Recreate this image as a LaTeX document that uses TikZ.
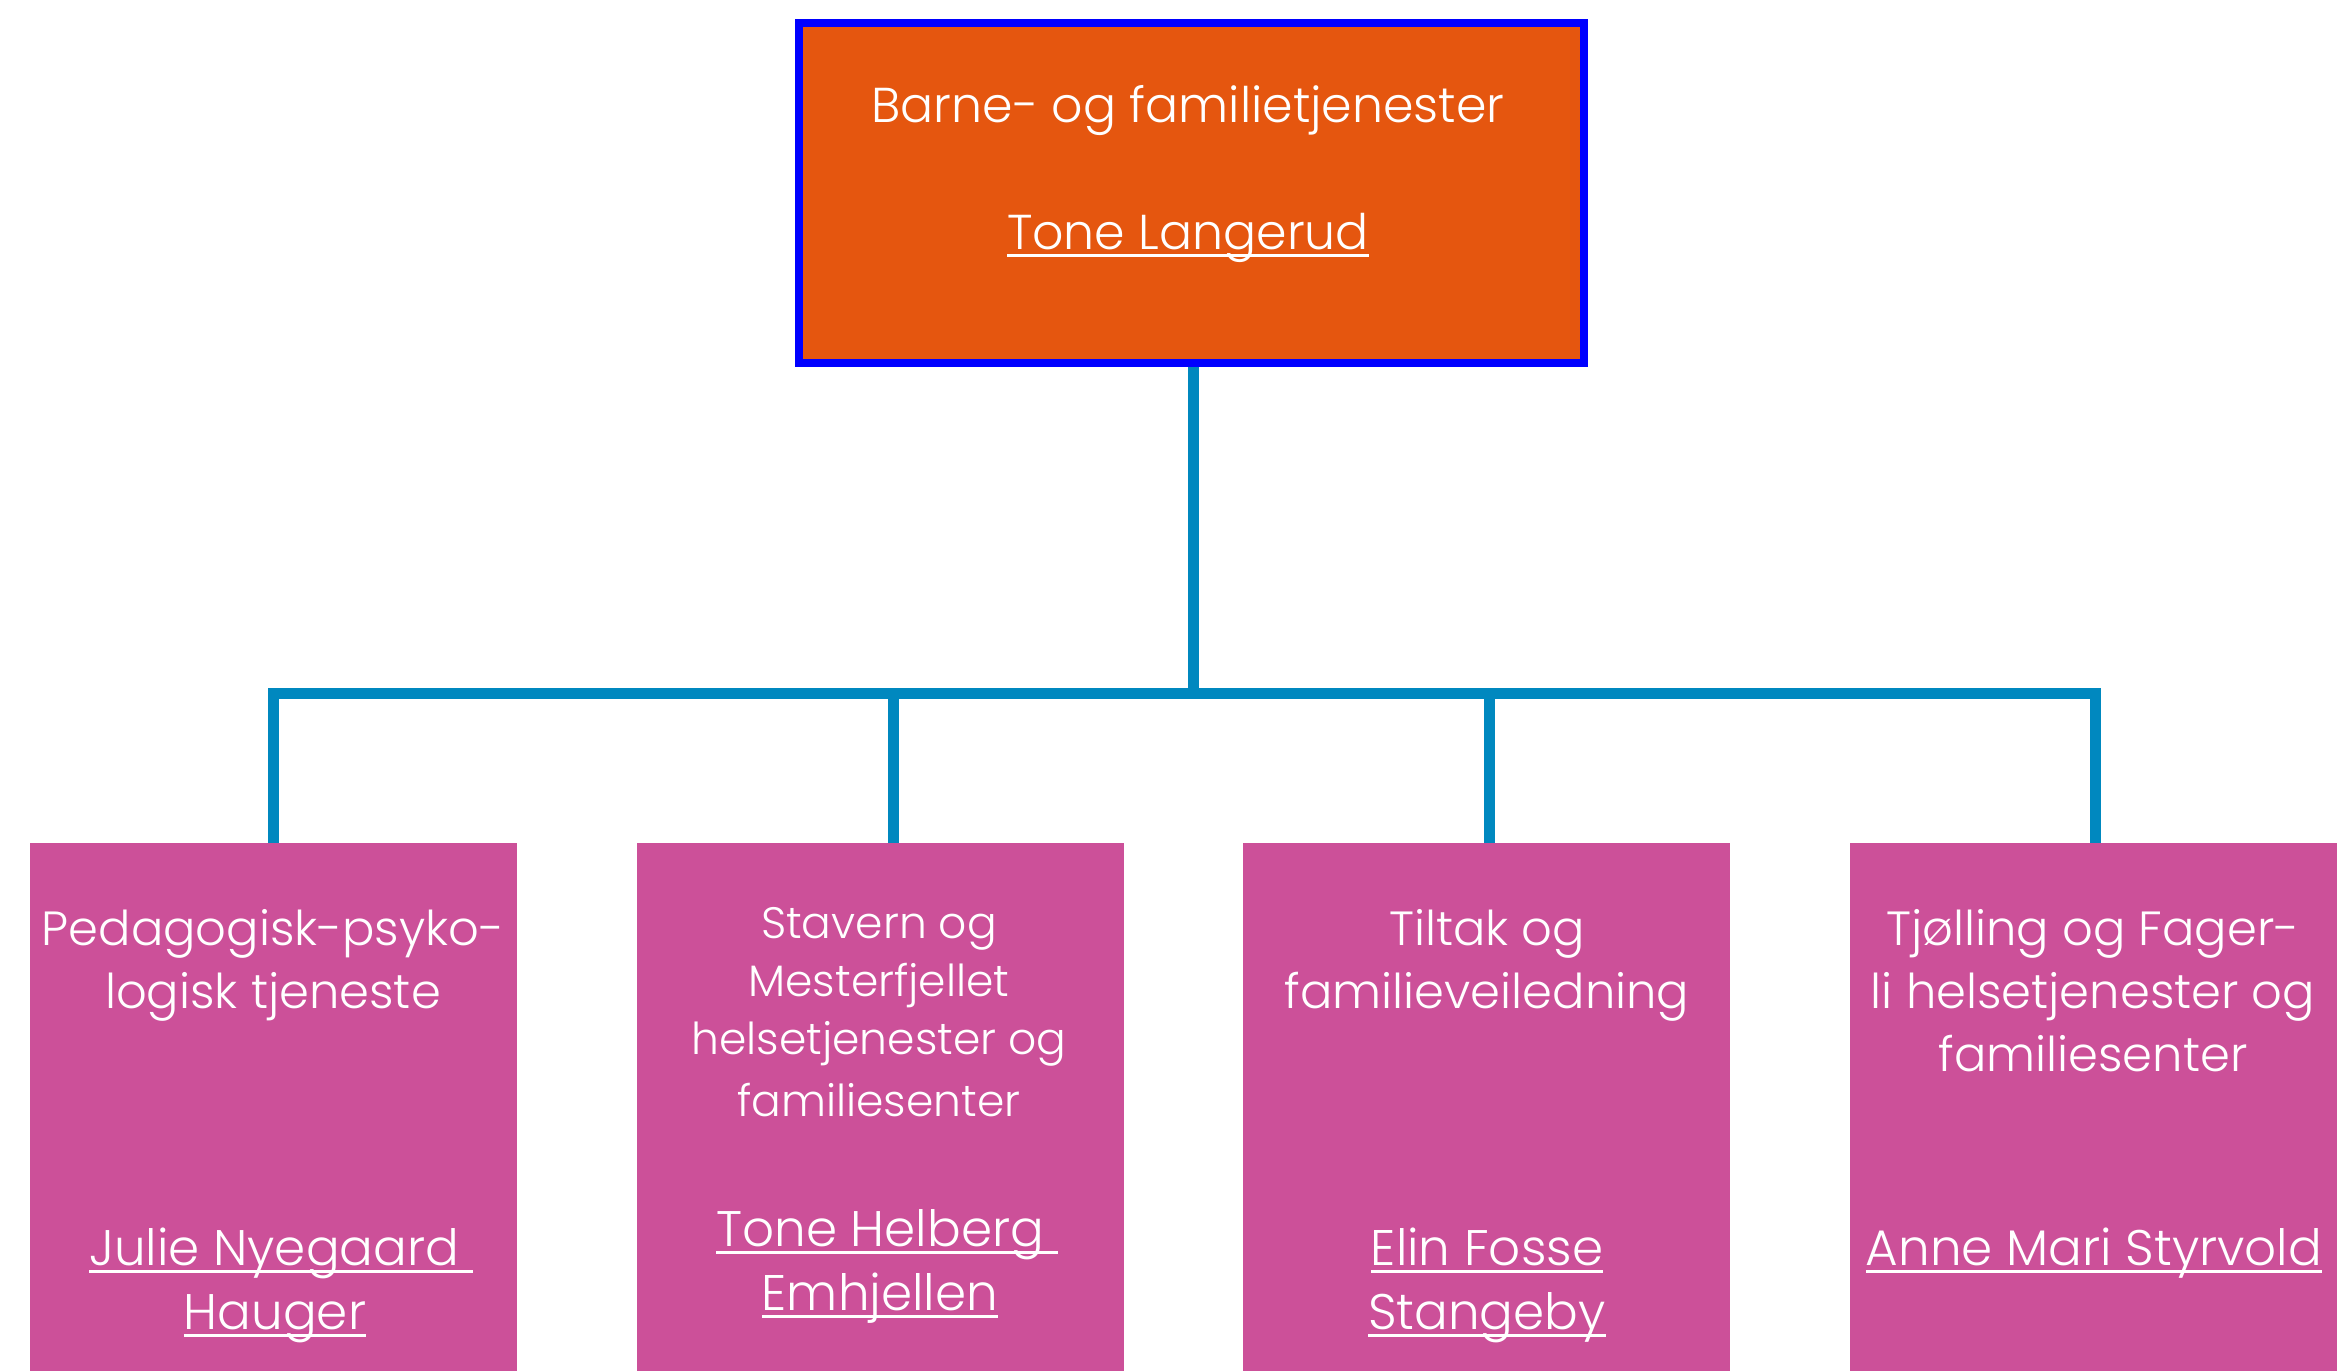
\documentclass[tikz,border=0pt]{standalone}
\usepackage{fontspec}
\setmainfont{Poppins}[UprightFont=* Light]
\newsavebox\ulbox
\newcommand\myul[1]{\sbox\ulbox{#1}\rlap{\rule[-8pt]{\wd\ulbox}{3pt}}\usebox\ulbox}
\definecolor{toporange}{HTML}{E5560F}
\definecolor{boxblue}{HTML}{0000FF}
\definecolor{unitpink}{HTML}{CC5099}
\definecolor{linkblue}{HTML}{0088BF}
\tikzset{
  topbox/.style={draw=boxblue, line width=8pt, fill=toporange, minimum width=785pt, minimum height=340pt, inner sep=0pt, anchor=north west},
  unitbox/.style={fill=unitpink, minimum width=487pt, minimum height=530pt, inner sep=0pt, anchor=north west},
  conn/.style={draw=linkblue, line width=11pt, line join=miter},
  txt/.style={text=white, anchor=base, inner sep=0pt, font=\fontsize{48}{60}\selectfont},
  nametxt/.style={txt, font=\fontsize{50}{60}\selectfont},
  smalltxt/.style={txt, font=\fontsize{44}{56}\selectfont},
  toptxt/.style={txt, font=\fontsize{49}{60}\selectfont}
}
\begin{document}
\begin{tikzpicture}[x=1pt, y=-1pt]
\useasboundingbox (0,0) rectangle (2341,1370);
% boxes
\node[topbox] (top) at (795,19) {};
\node[unitbox] (u1) at (30,843) {};
\node[unitbox] (u2) at (637,843) {};
\node[unitbox] (u3) at (1243,843) {};
\node[unitbox] (u4) at (1850,843) {};
% connectors
\coordinate (hub) at (1193,693);
\coordinate (d1) at (273.5,693);
\coordinate (d2) at (893,693);
\coordinate (d3) at (1489,693);
\coordinate (d4) at (2095,693);
\draw[conn] (top.south -| hub) -- (hub);
\draw[conn] (u1.north -| d1) -- (d1) -- (d4) -- (u4.north -| d4);
\draw[conn] (u2.north -| d2) -- (d2);
\draw[conn] (u3.north -| d3) -- (d3);
% top texts
\node[toptxt] (t1) at (1188,122) {Barne- og familietjenester};
\node[toptxt] (t2) at (1188,249) {\myul{Tone Langerud}};
% box 1
\node[txt] (a1) at (273,945) {Pedagogisk-psyko-};
\node[txt] (a2) at (273,1008) {logisk tjeneste};
\node[nametxt] (a3) at (281,1265) {\myul{Julie Nyegaard\ }};
\node[nametxt] (a4) at (275,1329) {\myul{Hauger}};
% box 2
\node[smalltxt] (b1) at (879,938) {Stavern og};
\node[smalltxt] (b2) at (879,996) {Mesterfjellet};
\node[smalltxt] (b3) at (879,1054) {helsetjenester og};
\node[smalltxt] (b4) at (879,1116) {familiesenter};
\node[nametxt] (b5) at (887,1246) {\myul{Tone Helberg\ }};
\node[nametxt] (b6) at (880,1310) {\myul{Emhjellen}};
% box 3
\node[txt] (c1) at (1487,945) {Tiltak og};
\node[txt] (c2) at (1487,1008) {familieveiledning};
\node[nametxt] (c3) at (1487,1265) {\myul{Elin Fosse}};
\node[nametxt] (c4) at (1487,1329) {\myul{Stangeby}};
% box 4
\node[txt] (e1) at (2093,945) {Tjølling og Fager-};
\node[txt] (e2) at (2093,1008) {li helsetjenester og};
\node[txt] (e3) at (2093,1071) {familiesenter};
\node[nametxt] (e4) at (2094,1265) {\myul{Anne Mari Styrvold}};
\end{tikzpicture}
\end{document}
